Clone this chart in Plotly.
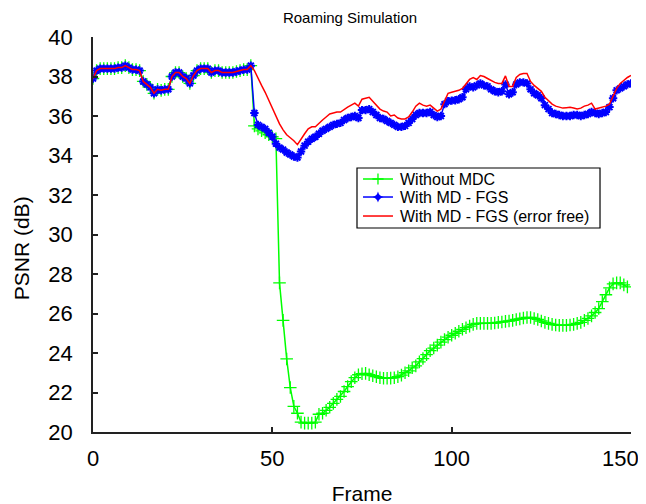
import plotly.graph_objects as go

frames = list(range(151))

# PSNR (dB) per frame
with_md_fgs = [
    37.9, 38.3, 38.4, 38.4, 38.4, 38.4, 38.4, 38.45, 38.45, 38.55,
    38.45, 38.35, 38.35, 38.3, 37.75, 37.6, 37.45, 37.15, 37.35, 37.3,
    37.35, 37.35, 38.0, 38.2, 38.2, 38.0, 37.9, 37.65, 38.05, 38.3,
    38.4, 38.4, 38.4, 38.2, 38.3, 38.3, 38.2, 38.2, 38.2, 38.2,
    38.25, 38.3, 38.35, 38.35, 38.55, 36.15, 35.55, 35.45, 35.35, 35.15,
    34.95, 34.6, 34.4, 34.3, 34.15, 34.05, 33.95, 33.9, 34.2, 34.5,
    34.7, 34.85, 34.95, 35.1, 35.25, 35.35, 35.45, 35.55, 35.6, 35.65,
    35.8, 35.9, 35.95, 36.0, 35.9, 36.3, 36.3, 36.35, 36.2, 36.05,
    35.9, 35.85, 35.75, 35.65, 35.55, 35.45, 35.45, 35.5, 35.65, 35.85,
    36.05, 36.15, 36.15, 36.15, 36.2, 36.05, 35.95, 36.0, 36.6, 36.75,
    36.78, 36.8, 36.85, 36.95, 37.35, 37.5, 37.45, 37.55, 37.65, 37.55,
    37.5, 37.35, 37.25, 37.2, 37.25, 37.6, 37.1, 37.2, 37.6, 37.7,
    37.7, 37.65, 37.35, 37.15, 37.05, 36.9, 36.55, 36.35, 36.15, 36.1,
    36.05, 36.0, 36.0, 36.0, 36.05, 36.05, 36.0, 36.05, 36.1, 36.2,
    36.15, 36.1, 36.15, 36.2, 36.45, 36.9, 37.3, 37.4, 37.5, 37.6,
    37.65,
]

error_free = [
    37.9, 38.3, 38.4, 38.4, 38.4, 38.4, 38.4, 38.45, 38.45, 38.55,
    38.45, 38.35, 38.35, 38.3, 37.75, 37.6, 37.45, 37.15, 37.35, 37.3,
    37.35, 37.35, 38.0, 38.2, 38.2, 38.0, 37.9, 37.65, 38.05, 38.3,
    38.4, 38.4, 38.4, 38.2, 38.3, 38.3, 38.2, 38.2, 38.2, 38.2,
    38.25, 38.3, 38.35, 38.35, 38.55, 38.3, 37.9, 37.55, 37.2, 36.8,
    36.4, 36.0, 35.6, 35.3, 35.05, 34.9, 34.75, 34.55, 34.85, 35.1,
    35.35, 35.45, 35.45, 35.65, 35.8, 35.95, 36.1, 36.15, 36.2, 36.2,
    36.35, 36.45, 36.55, 36.65, 36.5, 36.85, 36.9, 36.95, 36.75, 36.55,
    36.35, 36.25, 36.2, 36.0, 36.05, 35.9, 35.85, 35.85, 35.95, 36.2,
    36.5, 36.65, 36.55, 36.5, 36.55, 36.4, 36.25, 36.35, 36.8, 37.15,
    37.2, 37.25, 37.3, 37.4, 37.6, 37.85, 37.95, 37.85, 38.05, 38.0,
    37.9, 37.8, 37.7, 37.65, 37.65, 38.03, 37.5, 37.5, 37.95, 38.1,
    38.15, 38.15, 37.75, 37.55, 37.4, 37.25, 36.95, 36.75, 36.6, 36.5,
    36.45, 36.4, 36.42, 36.44, 36.4, 36.35, 36.4, 36.5, 36.55, 36.65,
    36.35, 36.4, 36.45, 36.5, 36.6, 37.05, 37.4, 37.65, 37.8, 37.95,
    38.05,
]

without_mdc = [
    37.9, 38.3, 38.4, 38.4, 38.4, 38.4, 38.4, 38.45, 38.45, 38.55,
    38.45, 38.35, 38.35, 38.3, 37.75, 37.6, 37.45, 37.15, 37.35, 37.3,
    37.35, 37.35, 38.0, 38.2, 38.2, 38.0, 37.9, 37.65, 38.05, 38.3,
    38.4, 38.4, 38.4, 38.2, 38.3, 38.3, 38.2, 38.2, 38.2, 38.2,
    38.25, 38.3, 38.35, 38.35, 38.55, 35.5, 35.35, 35.25, 35.15, 35.05,
    34.95, 34.85, 27.55, 25.65, 23.7, 22.25, 21.3, 20.95, 20.5, 20.45,
    20.45, 20.45, 20.5, 20.9, 20.95, 21.1, 21.25, 21.45, 21.65, 21.8,
    22.05, 22.3, 22.55, 22.75, 22.9, 22.95, 22.97, 22.9, 22.85, 22.8,
    22.75, 22.72, 22.72, 22.73, 22.75, 22.8, 22.88, 23.0, 23.1, 23.25,
    23.35, 23.55, 23.72, 23.92, 24.12, 24.25, 24.4, 24.55, 24.68, 24.8,
    24.9, 25.0, 25.1, 25.2, 25.28, 25.36, 25.45, 25.5, 25.5, 25.5,
    25.5, 25.5, 25.52, 25.55, 25.57, 25.6, 25.62, 25.65, 25.7, 25.73,
    25.77, 25.8, 25.8, 25.75, 25.7, 25.62, 25.55, 25.5, 25.45, 25.42,
    25.4, 25.4, 25.4, 25.42, 25.45, 25.5, 25.55, 25.65, 25.75, 25.88,
    26.05, 26.25, 26.6, 26.95, 27.3, 27.5, 27.55, 27.55, 27.45, 27.35,
]

series_names = ["Without MDC", "With MD - FGS", "With MD - FGS (error free)"]
x_ticks = [0, 50, 100, 150]
x_tick_text = ["0", "50", "100", ""]   # last label is placed separately (nudged inside the page)
last_x_label = "150"
y_ticks = [20, 22, 24, 26, 28, 30, 32, 34, 36, 38, 40]

FONT = "Liberation Sans, Arial, sans-serif"
GREEN, BLUE, RED = "#00ff00", "#0000ff", "#ff0000"

fig = go.Figure()
fig.add_trace(go.Scatter(
    x=frames[:len(without_mdc)], y=without_mdc, name=series_names[0],
    mode="lines+markers", showlegend=False,
    line=dict(color=GREEN, width=1.5),
    marker=dict(symbol="cross-thin-open", size=9, color=GREEN,
                line=dict(color=GREEN, width=1.3)),
))
fig.add_trace(go.Scatter(
    x=frames[:len(with_md_fgs)], y=with_md_fgs, name=series_names[1],
    mode="lines+markers", showlegend=False,
    line=dict(color=BLUE, width=1.5),
    marker=dict(symbol="asterisk-open", size=7, color=BLUE,
                line=dict(color=BLUE, width=2)),
))
fig.add_trace(go.Scatter(
    x=frames[:len(error_free)], y=error_free, name=series_names[2],
    mode="lines", showlegend=False,
    line=dict(color=RED, width=1.5),
))

# ---- compact legend box (paper coordinates) ----
lx0, lx1, ly0, ly1 = 0.4907, 0.9424, 0.5165, 0.6684
row_y = [0.6405, 0.5949, 0.5468]
key_x0, key_x1, key_xc, text_x = 0.5019, 0.5576, 0.5297, 0.5669
shapes = [dict(type="rect", xref="paper", yref="paper", x0=lx0, x1=lx1, y0=ly0, y1=ly1,
               line=dict(color="black", width=1.2), fillcolor="white", layer="below")]
for yy, col in zip(row_y, [GREEN, BLUE, RED]):
    shapes.append(dict(type="line", xref="paper", yref="paper", x0=key_x0, x1=key_x1,
                       y0=yy, y1=yy, line=dict(color=col, width=1.5), layer="below"))
for yy, name in zip(row_y, series_names):
    fig.add_annotation(x=text_x, y=yy, xref="paper", yref="paper", text=name,
                       showarrow=False, xanchor="left", yanchor="middle",
                       font=dict(size=16, family=FONT, color="black"))
# y-axis title
fig.add_annotation(x=-0.134, y=0.465, xref="paper", yref="paper", text="PSNR (dB)",
                   textangle=-90, showarrow=False, xanchor="center", yanchor="middle",
                   borderpad=0,
                   font=dict(size=21, family=FONT, color="black"))
# last x tick label, anchored to the x scale and nudged left so it stays on the page
fig.add_annotation(x=x_ticks[-1], y=0, xref="x", yref="paper", text=last_x_label,
                   showarrow=False, xanchor="center", yanchor="middle",
                   xshift=-11, yshift=-26, borderpad=0,
                   font=dict(size=22, family=FONT, color="black"))
# legend key markers (drawn on an overlay axis spanning the plot area)
fig.add_trace(go.Scatter(
    x=[key_xc], y=[row_y[0]], xaxis="x2", yaxis="y2", mode="markers", showlegend=False,
    hoverinfo="skip",
    marker=dict(symbol="cross-thin-open", size=8, color=GREEN, line=dict(color=GREEN, width=1.3)),
))
fig.add_trace(go.Scatter(
    x=[key_xc], y=[row_y[1]], xaxis="x2", yaxis="y2", mode="markers", showlegend=False,
    hoverinfo="skip",
    marker=dict(symbol="star-diamond", size=8, color=BLUE),
))

axis_common = dict(
    ticks="inside", ticklen=5, tickwidth=1.5, tickcolor="#222",
    showline=True, linecolor="#222", linewidth=1.5,
    showgrid=False, zeroline=False, tickfont=dict(size=22, family=FONT, color="black"),
    automargin=False, ticklabeloverflow="allow",
)

# the page body adds an 8px offset, so the margins are shifted accordingly
fig.update_layout(
    width=646, height=504,
    margin=dict(l=85, r=23, t=29, b=80),
    paper_bgcolor="white", plot_bgcolor="white",
    font=dict(family=FONT, color="black", size=20),
    title=dict(text="Roaming Simulation", x=342/646, xref="container", xanchor="center",
               y=1 - 10/504, yref="container", yanchor="middle",
               font=dict(size=15, family=FONT, color="black")),
    showlegend=False,
    shapes=shapes,
    xaxis=dict(range=[0, 150], tickvals=x_ticks, ticktext=x_tick_text,
               title=dict(text="Frame", font=dict(size=21, family=FONT, color="black"), standoff=16),
               ticklabelstandoff=6, **axis_common),
    yaxis=dict(range=[20, 40], tickvals=y_ticks, ticklabelstandoff=14, **axis_common),
    xaxis2=dict(overlaying="x", range=[0, 1], visible=False, fixedrange=True),
    yaxis2=dict(overlaying="y", range=[0, 1], visible=False, fixedrange=True),
)

fig.write_html("out.html")
